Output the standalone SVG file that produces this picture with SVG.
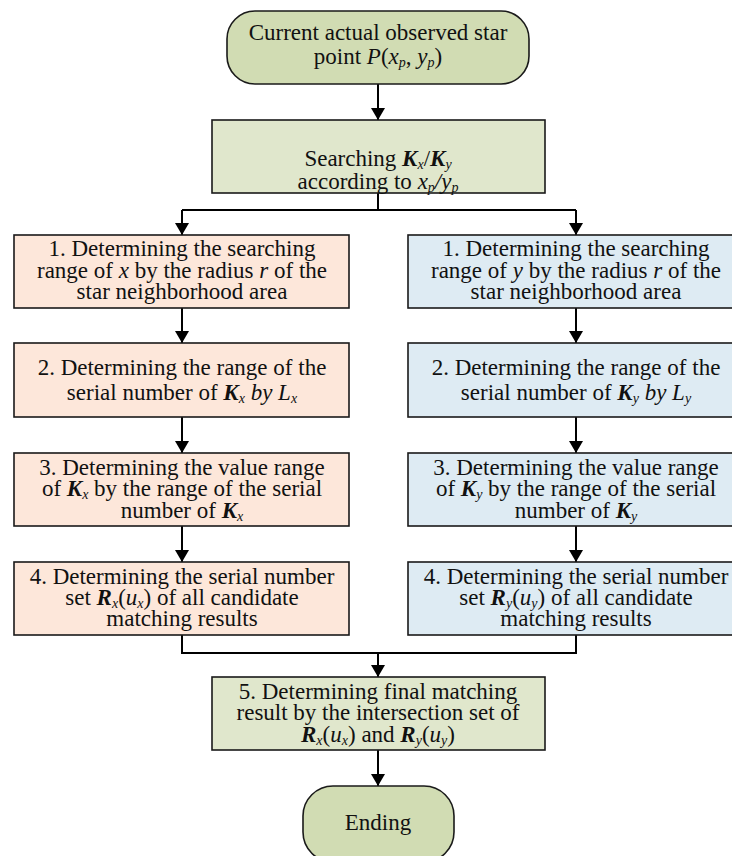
<svg xmlns="http://www.w3.org/2000/svg" width="732" height="856" viewBox="0 0 732 856">
<style>
text{font-family:"Liberation Serif","Times New Roman",serif;font-size:23px;fill:#111;text-anchor:middle}
.i{font-style:italic}
.b{font-weight:bold;font-style:italic}
.s{font-size:14px;font-style:italic}
.box{stroke:#1a1a1a;stroke-width:1.6}
.g1{fill:#d1dcb3}
.g2{fill:#e0e7cc}
.o{fill:#fde7da}
.bl{fill:#deebf3}
.c{stroke:#000;stroke-width:2;fill:none}
</style>
<defs>
<marker id="a" viewBox="0 0 12 14" refX="12" refY="7" markerWidth="12" markerHeight="14" markerUnits="userSpaceOnUse" orient="auto">
<path d="M0,0 L12,7 L0,14 Z" fill="#000"/>
</marker>
</defs>
<g id="connectors">
<path class="c" d="M378,84 V120" marker-end="url(#a)"/>
<path class="c" d="M378,193 V210 M182,210 H576"/>
<path class="c" d="M182,210 V235" marker-end="url(#a)"/>
<path class="c" d="M576,210 V235" marker-end="url(#a)"/>
<path class="c" d="M182,308 V343" marker-end="url(#a)"/>
<path class="c" d="M182,417 V453" marker-end="url(#a)"/>
<path class="c" d="M182,526 V562" marker-end="url(#a)"/>
<path class="c" d="M576,308 V343" marker-end="url(#a)"/>
<path class="c" d="M576,417 V453" marker-end="url(#a)"/>
<path class="c" d="M576,526 V562" marker-end="url(#a)"/>
<path class="c" d="M182,635 V653 H576 V635"/>
<path class="c" d="M378,653 V677" marker-end="url(#a)"/>
<path class="c" d="M378,750 V786" marker-end="url(#a)"/>
</g>
<g id="start">
<rect class="box g1" x="227" y="11" width="302" height="73" rx="28"/>
<text x="378" y="40">Current actual observed star</text>
<text x="378" y="64">point  <tspan class="i">P</tspan>(<tspan class="i">x</tspan><tspan class="s" dy="3">p</tspan><tspan dy="-3">, </tspan><tspan class="i">y</tspan><tspan class="s" dy="3">p</tspan><tspan dy="-3">)</tspan></text>
</g>
<g id="search">
<rect class="box g2" x="212" y="120" width="333" height="73"/>
<text x="378" y="166">Searching <tspan class="b">K</tspan><tspan class="s" dy="3">x</tspan><tspan dy="-3">/</tspan><tspan class="b">K</tspan><tspan class="s" dy="3">y</tspan></text>
<text x="378" y="189">according to <tspan class="i">x</tspan><tspan class="s" dy="3">p</tspan><tspan class="i" dy="-3">/y</tspan><tspan class="s" dy="3">p</tspan></text>
</g>
<g id="x1">
<rect class="box o" x="14" y="235" width="335" height="73"/>
<text x="182" y="256">1. Determining the searching</text>
<text x="182" y="278">range of <tspan class="i">x</tspan> by the radius <tspan class="i">r</tspan> of the</text>
<text x="182" y="299">star neighborhood area</text>
</g>
<g id="x2">
<rect class="box o" x="14" y="343" width="335" height="74"/>
<text x="182" y="375">2. Determining the range of the</text>
<text x="182" y="400">serial number of <tspan class="b">K</tspan><tspan class="s" dy="3">x</tspan><tspan class="i" dy="-3"> by L</tspan><tspan class="s" dy="3">x</tspan></text>
</g>
<g id="x3">
<rect class="box o" x="14" y="453" width="335" height="73"/>
<text x="182" y="475">3. Determining the value range</text>
<text x="182" y="496">of <tspan class="b">K</tspan><tspan class="s" dy="3">x</tspan><tspan dy="-3"> by the range of the serial</tspan></text>
<text x="182" y="518">number of <tspan class="b">K</tspan><tspan class="s" dy="3">x</tspan></text>
</g>
<g id="x4">
<rect class="box o" x="14" y="562" width="335" height="73"/>
<text x="182" y="584">4. Determining the serial number</text>
<text x="182" y="605">set <tspan class="b">R</tspan><tspan class="s" dy="3">x</tspan><tspan dy="-3">(</tspan><tspan class="i">u</tspan><tspan class="s" dy="3">x</tspan><tspan dy="-3">) of all candidate</tspan></text>
<text x="182" y="626">matching results</text>
</g>
<g id="y1">
<rect class="box bl" x="408" y="235" width="335" height="73"/>
<text x="576" y="256">1. Determining the searching</text>
<text x="576" y="278">range of <tspan class="i">y</tspan> by the radius <tspan class="i">r</tspan> of the</text>
<text x="576" y="299">star neighborhood area</text>
</g>
<g id="y2">
<rect class="box bl" x="408" y="343" width="335" height="74"/>
<text x="576" y="375">2. Determining the range of the</text>
<text x="576" y="400">serial number of <tspan class="b">K</tspan><tspan class="s" dy="3">y</tspan><tspan class="i" dy="-3"> by L</tspan><tspan class="s" dy="3">y</tspan></text>
</g>
<g id="y3">
<rect class="box bl" x="408" y="453" width="335" height="73"/>
<text x="576" y="475">3. Determining the value range</text>
<text x="576" y="496">of <tspan class="b">K</tspan><tspan class="s" dy="3">y</tspan><tspan dy="-3"> by the range of the serial</tspan></text>
<text x="576" y="518">number of <tspan class="b">K</tspan><tspan class="s" dy="3">y</tspan></text>
</g>
<g id="y4">
<rect class="box bl" x="408" y="562" width="335" height="73"/>
<text x="576" y="584">4. Determining the serial number</text>
<text x="576" y="605">set <tspan class="b">R</tspan><tspan class="s" dy="3">y</tspan><tspan dy="-3">(</tspan><tspan class="i">u</tspan><tspan class="s" dy="3">y</tspan><tspan dy="-3">) of all candidate</tspan></text>
<text x="576" y="626">matching results</text>
</g>
<g id="final">
<rect class="box g2" x="212" y="677" width="333" height="73"/>
<text x="378" y="699">5. Determining final matching</text>
<text x="378" y="720">result by the intersection set of</text>
<text x="378" y="742"><tspan class="b">R</tspan><tspan class="s" dy="3">x</tspan><tspan dy="-3">(</tspan><tspan class="i">u</tspan><tspan class="s" dy="3">x</tspan><tspan dy="-3">) and </tspan><tspan class="b">R</tspan><tspan class="s" dy="3">y</tspan><tspan dy="-3">(</tspan><tspan class="i">u</tspan><tspan class="s" dy="3">y</tspan><tspan dy="-3">)</tspan></text>
</g>
<g id="end">
<rect class="box g1" x="303" y="786" width="151" height="76" rx="30"/>
<text x="378" y="830">Ending</text>
</g>
</svg>
